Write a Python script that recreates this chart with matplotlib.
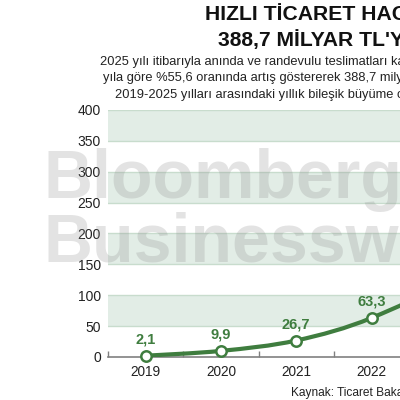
import matplotlib
matplotlib.use("Agg")
import matplotlib.pyplot as plt
from matplotlib.path import Path
from matplotlib.patches import PathPatch
import numpy as np

# ---- data ----
years = [2019, 2020, 2021, 2022, 2023, 2024, 2025]
values = [2.1, 9.9, 26.7, 63.3, 128.0, 249.8, 388.7]
value_labels = ["2,1", "9,9", "26,7", "63,3", "128,0", "249,8", "388,7"]
yticks = [0, 50, 100, 150, 200, 250, 300, 350, 400]
bands = [(50, 100), (150, 200), (250, 300), (350, 400)]

title_lines = ["HIZLI TİCARET HACMİ", "388,7 MİLYAR TL'YE ULAŞTI"]
subtitle_lines = [
    "2025 yılı itibarıyla anında ve randevulu teslimatları kapsayan hızlı ticaret hacmi",
    "yıla göre %55,6 oranında artış göstererek 388,7 milyar TL'ye ulaştı.",
    "2019-2025 yılları arasındaki yıllık bileşik büyüme oranı ise yüzde",
]
source = "Kaynak: Ticaret Bakanlığı"
watermark = ["Bloomberg", "Businessweek"]

GREEN = "#3f7d3f"
FONT = "Liberation Sans"

fig = plt.figure(figsize=(4, 4), dpi=100)
ax = fig.add_axes([108 / 400, 43 / 400, 527 / 400, 247 / 400])
ax.set_xlim(years[0] - 0.5, years[-1] + 0.5)
ax.set_ylim(0, 400)

for lo, hi in bands:
    ax.axhspan(lo, hi, facecolor="#e2ede6", edgecolor="none", zorder=0)
    ax.axhline(lo, color="#c8dccd", lw=1.0, zorder=0.5)
    ax.axhline(hi, color="#c8dccd", lw=1.0, zorder=0.5)

# smooth curve (Catmull-Rom -> Bezier) through the data points
P = np.column_stack([years, values]).astype(float)
verts = [tuple(P[0])]
codes = [Path.MOVETO]
n = len(P)
for i in range(n - 1):
    p0 = P[max(i - 1, 0)]
    p1 = P[i]
    p2 = P[i + 1]
    p3 = P[min(i + 2, n - 1)]
    c1 = p1 + (p2 - p0) / 6.0
    c2 = p2 - (p3 - p1) / 6.0
    verts += [tuple(c1), tuple(c2), tuple(p2)]
    codes += [Path.CURVE4] * 3
ax.add_patch(PathPatch(Path(verts, codes), facecolor="none", edgecolor=GREEN,
                       lw=3.0, capstyle="round", joinstyle="round", zorder=3))
ax.plot(years, values, linestyle="none", marker="o", markersize=7.5,
        markerfacecolor="white", markeredgecolor=GREEN, markeredgewidth=1.8,
        zorder=4, clip_on=False)
for x, v, lab in zip(years, values, value_labels):
    ax.annotate(lab, (x, v), xytext=(0, 6.5), textcoords="offset points",
                ha="center", va="bottom", color=GREEN, fontsize=10.5,
                fontweight="bold", family=FONT, zorder=5)

for s in ["top", "right", "left"]:
    ax.spines[s].set_visible(False)
ax.spines["bottom"].set_color("#808080")
ax.spines["bottom"].set_linewidth(1.2)
ax.spines["bottom"].set_zorder(2)

ax.set_yticks(yticks)
ax.set_yticklabels([str(t) for t in yticks], family=FONT, fontsize=10, color="#222222")
ax.tick_params(axis="y", length=0, pad=5)
ax.set_xticks(years)
ax.set_xticklabels([str(y) for y in years], family=FONT, fontsize=9.8, color="#222222")
ax.tick_params(axis="x", which="major", length=0, pad=5.5)
ax.set_xticks([y - 0.5 for y in years], minor=True)
ax.tick_params(axis="x", which="minor", direction="in", length=4.5, width=1.0, color="#808080")

# watermark
fig.text(43 / 400, 1 - 198 / 400, watermark[0], family=FONT, fontweight="bold",
         fontsize=49, color="#8c8c8c", alpha=0.24, ha="left", va="baseline", zorder=10)
fig.text(43 / 400, 1 - 262 / 400, watermark[1], family=FONT, fontweight="bold",
         fontsize=49, color="#8c8c8c", alpha=0.24, ha="left", va="baseline", zorder=10)

# titles
fig.text(205 / 400, 1 - 15 / 400, title_lines[0], family=FONT, fontweight="bold",
         fontsize=15.2, color="#111111", ha="left", va="center")
fig.text(218 / 400, 1 - 40 / 400, title_lines[1], family=FONT, fontweight="bold",
         fontsize=15.2, color="#111111", ha="left", va="center")
sub_x = [100, 103, 115]
sub_y = [62, 78, 95]
for t, sx, sy in zip(subtitle_lines, sub_x, sub_y):
    fig.text(sx / 400, 1 - sy / 400, t, family=FONT, fontsize=9.3, color="#222222",
             ha="left", va="center")
fig.text(291 / 400, 1 - 393 / 400, source, family=FONT, fontsize=8.6, color="#222222",
         ha="left", va="center")

fig.savefig("out.png", dpi=100)
